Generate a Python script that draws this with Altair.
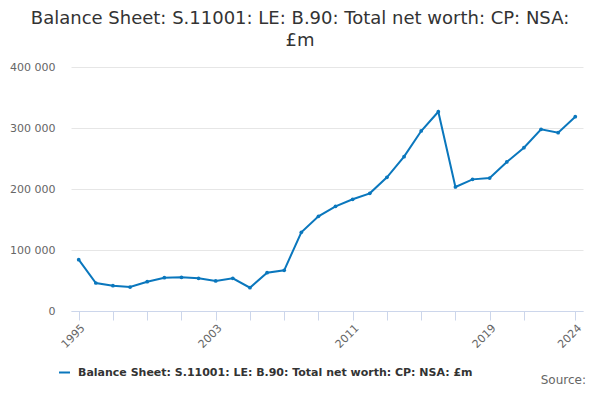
import altair as alt
import pandas as pd

years = list(range(1995, 2025))
values = [84100, 45900, 41500, 39300, 48000, 54600, 55200, 53600, 49200, 53600,
          38200, 62800, 66700, 129000, 155200, 171600, 183100, 192900, 219200, 253000,
          295100, 326700, 203300, 215800, 218000, 244300, 267700, 297800, 292300, 318500]
series_name = "Balance Sheet: S.11001: LE: B.90: Total net worth: CP: NSA: £m"
tick_years = [1995, 1997, 1999, 2001, 2003, 2005, 2007, 2009, 2011, 2013, 2015, 2017, 2019, 2021, 2024]
label_years = [1995, 2003, 2011, 2019, 2024]
y_ticks = [0, 100000, 200000, 300000, 400000]

df = pd.DataFrame({"year": years, "value": values, "series": [series_name] * len(years)})

color = "#0a77bd"
label_expr = "indexof([" + ",".join(str(y) for y in label_years) + "], datum.value) >= 0 ? datum.value + '' : ''"

base = alt.Chart(df)

line = base.mark_line(strokeWidth=2, point=alt.OverlayMarkDef(size=14, filled=True, color=color)).encode(
    x=alt.X("year:Q", scale=alt.Scale(domain=[1994.55, 2024.45], nice=False, zero=False),
            axis=alt.Axis(title=None, values=tick_years, labelExpr=label_expr, labelAngle=-45,
                          grid=False, domainColor="#ccd6eb", tickColor="#ccd6eb", tickSize=9,
                          labelColor="#666666", labelFontSize=11, labelFont="DejaVu Sans",
                          labelPadding=2, labelOverlap=False)),
    y=alt.Y("value:Q", scale=alt.Scale(domain=[0, 400000], nice=False),
            axis=alt.Axis(title=None, values=y_ticks,
                          labelExpr="replace(format(datum.value, ','), ',', ' ')",
                          domain=False, ticks=False, gridColor="#e6e6e6",
                          labelColor="#666666", labelFontSize=11, labelFont="DejaVu Sans",
                          labelPadding=16)),
    color=alt.Color("series:N", scale=alt.Scale(range=[color]),
                    legend=alt.Legend(title=None, orient="none", legendX=-13, legendY=299,
                                      labelFontSize=11, labelFontWeight="bold", labelColor="#333333",
                                      labelFont="DejaVu Sans", symbolType="M-1,0H1", labelOffset=7,
                                      symbolStrokeWidth=2, symbolSize=120, labelLimit=600)),
)

source = base.mark_text(align="right", baseline="middle", fontSize=12, color="#666666",
                        font="DejaVu Sans").encode(
    x=alt.value(515), y=alt.value(313), text=alt.value("Source:")
).transform_filter("datum.year == 1995")

chart = alt.layer(line, source).properties(
    width=512, height=244,
    autosize=alt.AutoSizeParams(type="none"),
    padding={"left": 63, "top": 59, "right": 9, "bottom": 77},
    title=alt.TitleParams(
        text=["Balance Sheet: S.11001: LE: B.90: Total net worth: CP: NSA:", "£m"],
        anchor="middle", frame="group", dx=-27, fontSize=18, font="DejaVu Sans",
        fontWeight="normal", color="#333333", lineHeight=22, offset=11),
).configure_view(stroke=None)

chart.save("out.html", embed_options={"renderer": "svg", "actions": False})
